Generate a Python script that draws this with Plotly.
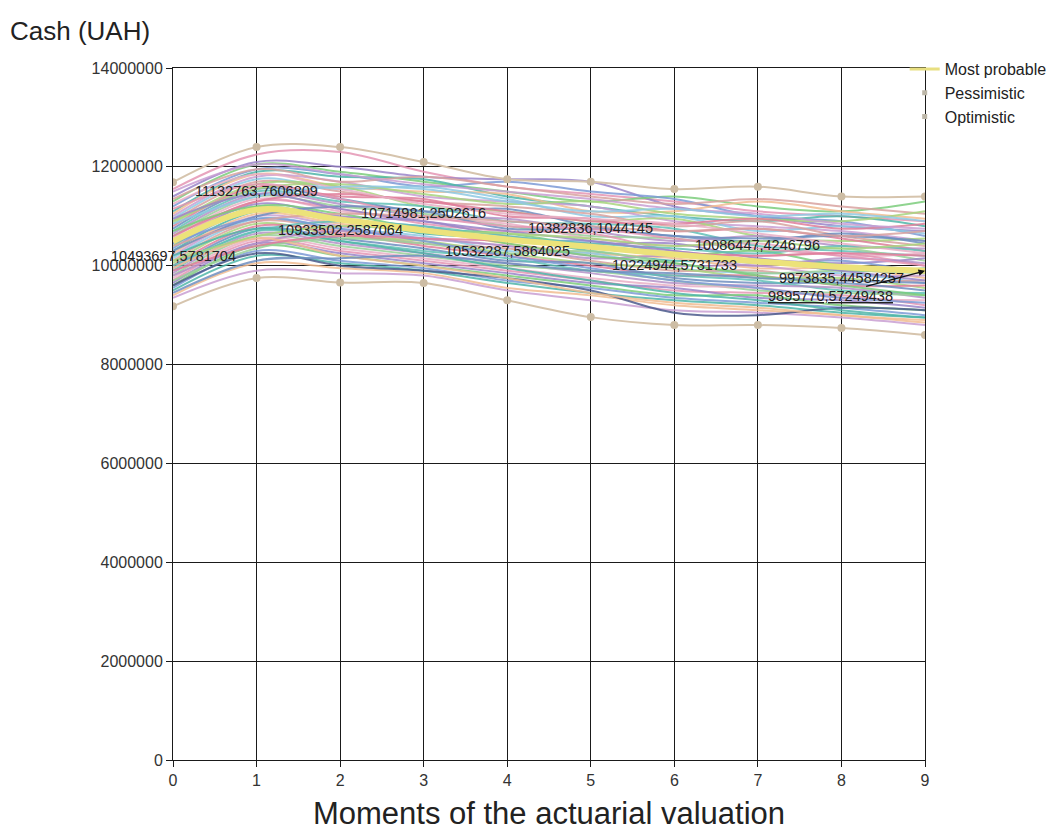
import plotly.graph_objects as go

# ---------------- data ----------------
moments = [0, 1, 2, 3, 4, 5, 6, 7, 8, 9]

most_probable = [10493697.5781704, 11132763.7606809, 10933502.2587064, 10714981.2502616,
                 10532287.5864025, 10382836.1044145, 10224944.5731733, 10086447.4246796,
                 9973835.44584257, 9895770.57249438]

most_probable_labels = ["10493697,5781704", "11132763,7606809", "10933502,2587064",
                        "10714981,2502616", "10532287,5864025", "10382836,1044145",
                        "10224944,5731733", "10086447,4246796", "9973835,44584257",
                        "9895770,57249438"]

# millions of UAH
optimistic = [11.69, 12.40, 12.40, 12.10, 11.75, 11.70, 11.55, 11.60, 11.40, 11.40]
pessimistic = [9.18, 9.75, 9.66, 9.65, 9.30, 8.96, 8.80, 8.80, 8.74, 8.60]

# simulated scenario paths (millions of UAH)
scenario_paths = [
    [11.55, 12.25, 12.30, 11.90, 11.60, 11.45, 11.30, 11.10, 11.00, 10.90],
    [11.40, 12.10, 12.00, 11.80, 11.75, 11.70, 11.20, 11.00, 10.80, 10.70],
    [11.30, 12.05, 11.90, 11.70, 11.50, 11.30, 11.40, 11.20, 11.10, 11.30],
    [11.20, 11.95, 11.85, 11.60, 11.70, 11.50, 11.35, 11.00, 10.90, 10.60],
    [11.10, 11.90, 11.80, 11.75, 11.40, 11.20, 11.00, 10.90, 11.00, 10.80],
    [11.05, 11.85, 11.60, 11.50, 11.45, 11.10, 11.10, 11.30, 11.10, 10.95],
    [11.00, 11.80, 11.70, 11.40, 11.30, 11.20, 10.90, 10.80, 10.70, 10.50],
    [10.95, 11.75, 11.55, 11.60, 11.35, 11.00, 11.00, 10.70, 10.80, 10.65],
    [10.90, 11.70, 11.50, 11.30, 11.20, 11.05, 10.80, 10.90, 10.60, 10.40],
    [10.85, 11.65, 11.60, 11.20, 11.10, 10.90, 10.95, 10.60, 10.50, 10.55],
    [10.80, 11.60, 11.40, 11.35, 11.00, 10.95, 10.70, 10.75, 10.55, 10.30],
    [10.75, 11.55, 11.35, 11.10, 11.15, 10.80, 10.60, 10.50, 10.65, 10.45],
    [10.70, 11.50, 11.30, 11.20, 10.90, 10.85, 10.75, 10.40, 10.30, 10.20],
    [10.65, 11.45, 11.25, 11.00, 10.95, 10.70, 10.50, 10.60, 10.40, 10.35],
    [10.60, 11.40, 11.20, 11.05, 10.80, 10.60, 10.55, 10.30, 10.35, 10.10],
    [10.55, 11.35, 11.10, 10.95, 10.85, 10.55, 10.40, 10.45, 10.20, 10.25],
    [10.50, 11.30, 11.15, 10.85, 10.70, 10.65, 10.30, 10.20, 10.25, 10.00],
    [10.45, 11.25, 11.00, 10.90, 10.60, 10.45, 10.45, 10.15, 10.05, 10.15],
    [10.40, 11.20, 11.05, 10.75, 10.65, 10.40, 10.20, 10.30, 10.00, 9.90],
    [10.35, 11.15, 10.90, 10.80, 10.50, 10.50, 10.25, 10.05, 10.10, 9.85],
    [10.30, 11.10, 10.95, 10.65, 10.55, 10.30, 10.10, 10.10, 9.90, 9.95],
    [10.25, 11.05, 10.85, 10.70, 10.45, 10.25, 10.15, 9.95, 9.95, 9.75],
    [10.20, 11.00, 10.80, 10.55, 10.40, 10.20, 10.00, 10.00, 9.80, 9.80],
    [10.15, 10.95, 10.75, 10.60, 10.30, 10.25, 9.95, 9.85, 9.85, 9.65],
    [10.10, 10.90, 10.70, 10.45, 10.35, 10.10, 9.90, 9.90, 9.70, 9.70],
    [10.05, 10.85, 10.60, 10.50, 10.25, 10.05, 9.95, 9.75, 9.75, 9.55],
    [10.00, 10.80, 10.65, 10.40, 10.20, 10.00, 9.80, 9.80, 9.60, 9.60],
    [9.95, 10.75, 10.55, 10.35, 10.10, 10.05, 9.75, 9.65, 9.65, 9.50],
    [9.90, 10.70, 10.50, 10.30, 10.15, 9.90, 9.80, 9.70, 9.50, 9.45],
    [9.85, 10.65, 10.45, 10.25, 10.05, 9.85, 9.65, 9.60, 9.55, 9.35],
    [9.80, 10.60, 10.40, 10.20, 10.00, 9.90, 9.70, 9.50, 9.45, 9.40],
    [9.75, 10.55, 10.35, 10.15, 9.95, 9.75, 9.60, 9.55, 9.35, 9.30],
    [9.70, 10.50, 10.30, 10.10, 9.90, 9.70, 9.50, 9.45, 9.40, 9.20],
    [9.65, 10.45, 10.25, 10.05, 9.85, 9.65, 9.55, 9.35, 9.30, 9.15],
    [9.60, 10.40, 10.20, 10.00, 9.80, 9.60, 9.40, 9.40, 9.20, 9.10],
    [9.55, 10.30, 10.10, 9.95, 9.70, 9.55, 9.35, 9.25, 9.15, 9.00],
    [9.50, 10.20, 10.05, 9.90, 9.65, 9.45, 9.30, 9.20, 9.05, 8.95],
    [9.40, 10.05, 9.95, 9.85, 9.55, 9.40, 9.20, 9.10, 9.00, 8.85],
    [9.35, 9.90, 9.85, 9.80, 9.50, 9.30, 9.10, 9.05, 8.95, 8.80],
    [9.60, 10.25, 10.00, 9.90, 9.75, 9.50, 9.05, 9.00, 9.15, 9.10],
    [11.35, 11.95, 11.70, 11.80, 11.60, 11.40, 11.25, 11.35, 11.20, 11.05],
    [10.90, 11.55, 11.65, 11.45, 11.25, 11.30, 11.05, 10.95, 10.90, 11.10],
    [10.60, 11.30, 11.45, 11.30, 11.10, 10.90, 10.85, 10.95, 10.75, 10.85],
    [10.30, 11.00, 11.20, 11.10, 10.75, 10.75, 10.60, 10.55, 10.60, 10.50],
    [10.00, 10.70, 10.90, 10.80, 10.60, 10.45, 10.35, 10.25, 10.40, 10.30],
    [9.80, 10.45, 10.70, 10.55, 10.40, 10.15, 10.20, 10.00, 10.15, 10.05],
    [9.70, 10.35, 10.55, 10.45, 10.25, 10.30, 10.05, 9.85, 9.90, 9.85],
    [11.25, 11.85, 11.55, 11.25, 11.05, 10.95, 10.85, 10.65, 10.45, 10.25],
    [11.15, 11.65, 11.35, 11.00, 10.80, 10.75, 10.55, 10.35, 10.20, 10.00],
    [10.95, 11.45, 11.15, 10.90, 10.70, 10.50, 10.30, 10.10, 9.90, 9.70],
    [10.70, 11.20, 10.95, 10.75, 10.45, 10.20, 10.05, 9.80, 9.60, 9.40],
    [10.45, 10.95, 10.75, 10.50, 10.20, 9.95, 9.70, 9.55, 9.35, 9.25],
    [10.20, 10.75, 10.50, 10.25, 9.95, 9.70, 9.45, 9.30, 9.10, 8.95],
    [9.95, 10.55, 10.20, 10.00, 9.75, 9.45, 9.25, 9.15, 9.00, 8.90],
    [11.50, 12.05, 11.85, 11.65, 11.50, 11.35, 11.15, 11.05, 10.85, 10.75],
    [10.85, 11.40, 11.60, 11.55, 11.30, 11.10, 11.15, 11.00, 11.05, 10.90],
    [10.40, 10.90, 11.05, 11.00, 10.90, 10.80, 10.70, 10.75, 10.60, 10.70],
    [10.10, 10.60, 10.80, 10.70, 10.65, 10.55, 10.40, 10.50, 10.35, 10.45],
    [9.90, 10.40, 10.60, 10.55, 10.50, 10.35, 10.25, 10.20, 10.25, 10.20],
    [9.45, 10.10, 10.15, 10.20, 10.05, 9.90, 9.85, 9.75, 9.70, 9.65],
]

y_ticks = [0, 2000000, 4000000, 6000000, 8000000, 10000000, 12000000, 14000000]
y_tick_text = ["0", "2000000", "4000000", "6000000", "8000000", "10000000", "12000000", "14000000"]

# ---------------- styles ----------------
palette = ["#e596b4", "#9b86c9", "#7ccd7c", "#7d9bd6", "#4fb6a9", "#f1bd92",
           "#c99fd3", "#8fc9e3", "#d9a3a0", "#a9d57f", "#e07f9b", "#6f8fc0",
           "#63c1b8", "#b592c8", "#9ad19a", "#e9b0c6"]
dark_path_color = "#4c5b8c"
FONT = "Liberation Sans, Arial"

fig = go.Figure()

for i, path in enumerate(scenario_paths):
    color = dark_path_color if i == 39 else palette[i % len(palette)]
    fig.add_trace(go.Scatter(
        x=moments, y=[v * 1e6 for v in path], mode="lines",
        line=dict(color=color, width=2, shape="spline", smoothing=1.0),
        opacity=0.85, showlegend=False, hoverinfo="skip"))

for series in (optimistic, pessimistic):
    fig.add_trace(go.Scatter(
        x=moments, y=[v * 1e6 for v in series], mode="lines+markers",
        line=dict(color="#d6c4ad", width=2, shape="spline", smoothing=1.0),
        marker=dict(color="#cdbda5", size=8),
        showlegend=False))

fig.add_trace(go.Scatter(
    x=moments, y=most_probable, mode="lines", showlegend=False,
    line=dict(color="#ece27a", width=6, shape="spline", smoothing=1.0)))

# legend-only entries
fig.add_trace(go.Scatter(x=[None], y=[None], mode="lines", name="Most probable",
                         line=dict(color="#e8df80", width=3)))
fig.add_trace(go.Scatter(x=[None], y=[None], mode="markers", name="Pessimistic",
                         marker=dict(symbol="square", size=5, color="#bdb7a8")))
fig.add_trace(go.Scatter(x=[None], y=[None], mode="markers", name="Optimistic",
                         marker=dict(symbol="square", size=5, color="#bdb7a8")))

label_shifts = [-15, 19, -10, 17, -12, 19, -10, 16, -11]
for i in range(9):
    fig.add_annotation(x=moments[i], y=most_probable[i], text=most_probable_labels[i],
                       showarrow=False, yshift=label_shifts[i],
                       font=dict(size=14.5, color="#222222", family=FONT))
fig.add_annotation(x=moments[9], y=most_probable[9], text="<u>" + most_probable_labels[9] + "</u>",
                   showarrow=True, arrowhead=2, arrowsize=1, arrowwidth=1.3, arrowcolor="#111111",
                   ax=-95, ay=25, font=dict(size=14.5, color="#222222", family=FONT))

axis_common = dict(showgrid=True, gridcolor="#1a1a1a", gridwidth=1,
                   showline=True, linecolor="#1a1a1a", linewidth=1, mirror=True,
                   ticks="outside", ticklen=6, tickcolor="#1a1a1a", zeroline=False,
                   automargin=False,
                   tickfont=dict(size=16, color="#333333", family=FONT))

# the page body adds an 8px offset, so the figure is 8px smaller than the window
fig.update_layout(
    width=1046, height=824,
    margin=dict(l=165, r=129, t=60, b=72, autoexpand=False),
    paper_bgcolor="white", plot_bgcolor="white",
    font=dict(family=FONT, color="#222222"),
    title=dict(text="Cash (UAH)", x=2 / 1046, xanchor="left", xref="container",
               y=1 - 23 / 824, yanchor="middle", yref="container",
               font=dict(size=26, color="#222222")),
    xaxis=dict(range=[0, 9], tickmode="linear", dtick=1,
               title=dict(text="Moments of the actuarial valuation",
                          font=dict(size=31, color="#222222"), standoff=14),
               **axis_common),
    yaxis=dict(range=[0, 14000000], tickmode="array", tickvals=y_ticks, ticktext=y_tick_text,
               **axis_common),
    legend=dict(x=0.973, y=1.023, xanchor="left", yanchor="top",
                font=dict(size=16, color="#222222"), bgcolor="rgba(0,0,0,0)",
                itemwidth=30),
    showlegend=True,
)

fig.write_html("out.html")
